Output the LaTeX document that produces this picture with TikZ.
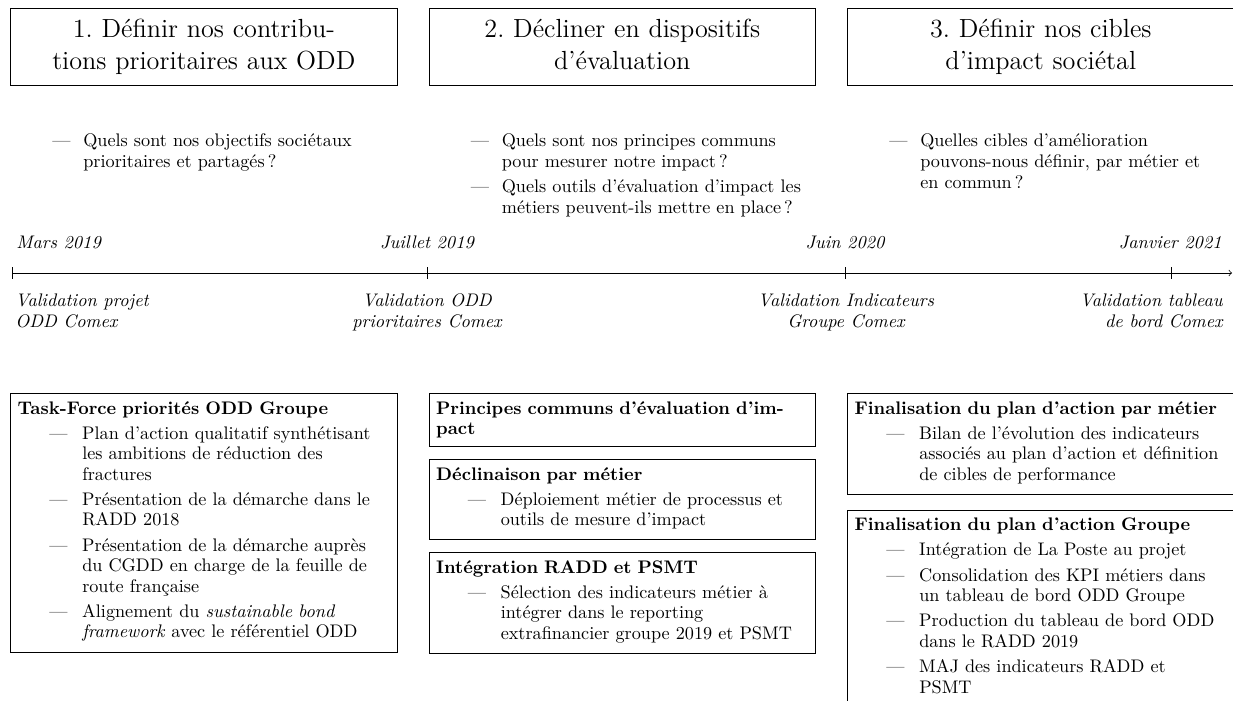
\documentclass[tikz,border=0pt]{standalone}
\usepackage{fontspec}
\frenchspacing
\newcommand\bitem[1]{\par\hangindent=35.5pt\hangafter=0\noindent\llap{\makebox[18.1pt][l]{---}}#1\par}
\newcommand\qitem[1]{\par\hangindent=36.1pt\hangafter=0\noindent\llap{\makebox[17pt][l]{---}}#1\par}
\newcommand\hdrtop{\rule{0pt}{10pt}}
\newcommand\hdrbot{\rule[-2.8pt]{0pt}{2.8pt}}
\newcommand\qfont{\fontsize{10}{11.6}\selectfont\setlength{\parskip}{2.5pt}}
\newcommand\bfontx{\fontsize{10}{11.3}\selectfont\setlength{\parskip}{2.5pt}}
\tikzset{
  hdr/.style={draw, anchor=north west, text width=204.6pt, inner xsep=4pt, inner ysep=6pt, align=center,
    font=\fontsize{14.4}{17.2}\selectfont},
  qlist/.style={anchor=north west, text width=204.6pt, inner xsep=4pt, inner ysep=0pt, align=left, font=\qfont},
  bbox/.style={draw, anchor=north west, text width=204.6pt, inner xsep=4pt, inner ysep=4.3pt, align=left, font=\bfontx},
  datelbl/.style={inner sep=0pt, font=\fontsize{10}{11.6}\selectfont\itshape},
  tick/.style={line width=0.4pt},
}
\begin{document}
\begin{tikzpicture}[x=0.54945pt, y=-0.54945pt, line width=0.4pt]
\useasboundingbox (0,0) rectangle (1233,701);
\clip (0,0) rectangle (1233,701);
\fill[white] (0,0) rectangle (1233,701);

% headers
\node[hdr] (h1) at (10,8) {\hdrtop 1. Définir nos contribu-\\tions prioritaires aux ODD\hdrbot};
\node[hdr] (h2) at (428.5,8) {\hdrtop 2. Décliner en dispositifs\\d'évaluation\hdrbot};
\node[hdr] (h3) at (847,8) {\hdrtop 3. Définir nos cibles\\d'impact sociétal\hdrbot};

% questions
\node[qlist] (q1) at (10,120) {\qitem{Quels sont nos objectifs sociétaux\newline prioritaires et partagés\,?}};
\node[qlist] (q2) at (428.5,120) {\qitem{Quels sont nos principes communs\newline pour mesurer notre impact\,?}\qitem{Quels outils d'évaluation d'impact les\newline métiers peuvent-ils mettre en place\,?}};
\node[qlist] (q3) at (847,120) {\qitem{Quelles cibles d'amélioration\newline pouvons-nous définir, par métier et\newline en commun\,?}};

% timeline
\coordinate (t0) at (12,273);
\coordinate (t1) at (427,273);
\coordinate (t2) at (845,273);
\coordinate (t3) at (1171,273);
\coordinate (tend) at (1232,273);
\draw[->] (t0) -- (tend);
\foreach \t in {t0,t1,t2,t3} \draw[tick] (\t) ++(0,-6) -- ++(0,12);

\node[datelbl, anchor=base west] (d0) at (16,248) {Mars 2019};
\node[datelbl, anchor=base] (d1) at (427,248) {Juillet 2019};
\node[datelbl, anchor=base] (d2) at (845,248) {Juin 2020};
\node[datelbl, anchor=base east] (d3) at (1222,248) {Janvier 2021};

\node[datelbl, anchor=north west, align=left] (v0) at (15,293.5) {Validation projet\\ODD Comex};
\node[datelbl, anchor=north, align=center] (v1) at (427,293.5) {Validation ODD\\prioritaires Comex};
\node[datelbl, anchor=north, align=center] (v2) at (846,293.5) {Validation Indicateurs\\Groupe Comex};
\node[datelbl, anchor=north east, align=right] (v3) at (1223,293.5) {Validation tableau\\de bord Comex};

% bottom boxes
\node[bbox] (b1) at (10,393) {\textbf{Task-Force priorités ODD Groupe}%
  \bitem{Plan d'action qualitatif synthétisant\newline les ambitions de réduction des\newline fractures}%
  \bitem{Présentation de la démarche dans le\newline RADD 2018}%
  \bitem{Présentation de la démarche auprès\newline du CGDD en charge de la feuille de\newline route française}%
  \bitem{Alignement du \textit{sustainable bond}\newline \textit{framework} avec le référentiel ODD\strut}};

\node[bbox] (b2) at (428.5,393) {\textbf{Principes communs d'évaluation d'im-\newline pact}};
\node[bbox] (b3) at (428.5,459) {\textbf{Déclinaison par métier}%
  \bitem{Déploiement métier de processus et\newline outils de mesure d'impact\strut}};
\node[bbox] (b4) at (428.5,552) {\textbf{Intégration RADD et PSMT}%
  \bitem{Sélection des indicateurs métier à\newline intégrer dans le reporting\newline extrafinancier groupe 2019 et PSMT\strut}};

\node[bbox] (b5) at (847,393) {\textbf{Finalisation du plan d'action par métier}%
  \bitem{Bilan de l'évolution des indicateurs\newline associés au plan d'action et définition\newline de cibles de performance\strut}};
\node[bbox] (b6) at (847,510) {\textbf{Finalisation du plan d'action Groupe}%
  \bitem{Intégration de La Poste au projet}%
  \bitem{Consolidation des KPI métiers dans\newline un tableau de bord ODD Groupe}%
  \bitem{Production du tableau de bord ODD\newline dans le RADD 2019}%
  \bitem{MAJ des indicateurs RADD et\newline PSMT\strut}};
\end{tikzpicture}
\end{document}
